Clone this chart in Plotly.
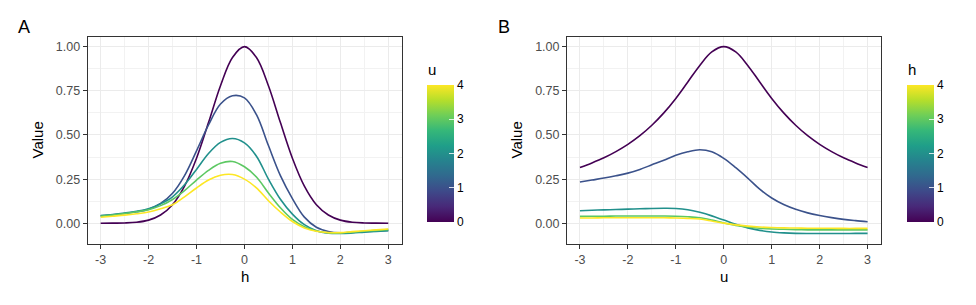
import plotly.graph_objects as go

# ---------------- data ----------------
grid = [-3, -2.75, -2.5, -2.25, -2, -1.75, -1.5, -1.25, -1, -0.75, -0.5, -0.25, 0,
        0.25, 0.5, 0.75, 1, 1.25, 1.5, 1.75, 2, 2.25, 2.5, 2.75, 3]

# Panel A: Value vs h, one curve per u
u_levels = [0, 1, 2, 3, 4]
a_u0 = [0.000, 0.001, 0.002, 0.006, 0.018, 0.047, 0.105, 0.210, 0.368, 0.570, 0.779, 0.939, 1.000,
        0.939, 0.779, 0.570, 0.368, 0.210, 0.105, 0.047, 0.018, 0.006, 0.002, 0.001, 0.000]
a_u1 = [0.043, 0.048, 0.055, 0.065, 0.080, 0.112, 0.170, 0.270, 0.410, 0.557, 0.675, 0.722, 0.710,
        0.615, 0.440, 0.270, 0.140, 0.035, -0.022, -0.046, -0.054, -0.052, -0.048, -0.044, -0.040]
a_u2 = [0.044, 0.050, 0.058, 0.068, 0.083, 0.110, 0.150, 0.218, 0.305, 0.395, 0.458, 0.480, 0.455,
        0.380, 0.250, 0.136, 0.052, -0.008, -0.042, -0.056, -0.058, -0.055, -0.050, -0.046, -0.042]
a_u3 = [0.040, 0.047, 0.055, 0.065, 0.077, 0.100, 0.135, 0.185, 0.245, 0.300, 0.340, 0.350, 0.320,
        0.262, 0.172, 0.088, 0.022, -0.020, -0.044, -0.054, -0.055, -0.050, -0.045, -0.040, -0.036]
a_u4 = [0.034, 0.040, 0.046, 0.054, 0.064, 0.082, 0.105, 0.150, 0.200, 0.245, 0.272, 0.276, 0.250,
        0.200, 0.128, 0.064, 0.010, -0.026, -0.045, -0.053, -0.053, -0.047, -0.042, -0.037, -0.032]

# Panel B: Value vs u, one curve per h
h_levels = [0, 1, 2, 3, 4]
b_h0 = [0.316, 0.342, 0.371, 0.406, 0.447, 0.496, 0.555, 0.625, 0.707, 0.800, 0.894, 0.970, 1.000,
        0.970, 0.894, 0.800, 0.707, 0.625, 0.555, 0.496, 0.447, 0.406, 0.371, 0.342, 0.316]
b_h1 = [0.234, 0.245, 0.256, 0.269, 0.284, 0.305, 0.331, 0.357, 0.385, 0.405, 0.416, 0.405, 0.368,
        0.315, 0.256, 0.193, 0.143, 0.106, 0.079, 0.059, 0.044, 0.032, 0.022, 0.015, 0.009]
b_h2 = [0.071, 0.074, 0.076, 0.078, 0.080, 0.082, 0.084, 0.085, 0.084, 0.077, 0.062, 0.042, 0.018,
        -0.006, -0.026, -0.040, -0.049, -0.054, -0.057, -0.058, -0.058, -0.058, -0.058, -0.057, -0.057]
b_h3 = [0.039, 0.040, 0.040, 0.041, 0.041, 0.041, 0.041, 0.041, 0.040, 0.037, 0.031, 0.018, 0.002,
        -0.012, -0.021, -0.028, -0.032, -0.034, -0.036, -0.037, -0.037, -0.037, -0.037, -0.037, -0.037]
b_h4 = [0.030, 0.030, 0.031, 0.031, 0.031, 0.031, 0.031, 0.031, 0.030, 0.028, 0.024, 0.013, 0.001,
        -0.009, -0.016, -0.021, -0.024, -0.026, -0.027, -0.028, -0.028, -0.028, -0.029, -0.029, -0.029]

y_ticks = [0, 0.25, 0.5, 0.75, 1.0]
y_tick_text = ["0.00", "0.25", "0.50", "0.75", "1.00"]
x_ticks = [-3, -2, -1, 0, 1, 2, 3]
x_tick_text = ["-3", "-2", "-1", "0", "1", "2", "3"]
cb_ticks = [0, 1, 2, 3, 4]

colors = ["#440154", "#3B528B", "#21908C", "#5DC863", "#FDE725"]

# ---------------- figure ----------------
# The page body keeps its default 8px margin, so the figure is 16px smaller
# and all pixel positions below (page coordinates) are shifted by 8px.
PAGE_W, PAGE_H = 976, 305
OFF = 8
W, H = PAGE_W - 2 * OFF, PAGE_H - 2 * OFF
FONT = "Liberation Sans, Arial, sans-serif"

def fx(px):
    return (px - OFF) / W

def fy(py):
    return 1 - (py - OFF) / H

fig = go.Figure()

for vals, c in zip([a_u0, a_u1, a_u2, a_u3, a_u4], colors):
    fig.add_trace(go.Scatter(x=grid, y=vals, mode="lines", xaxis="x", yaxis="y",
                             line=dict(color=c, width=1.6, shape="spline", smoothing=1.0),
                             showlegend=False, hoverinfo="skip"))
for vals, c in zip([b_h0, b_h1, b_h2, b_h3, b_h4], colors):
    fig.add_trace(go.Scatter(x=grid, y=vals, mode="lines", xaxis="x2", yaxis="y2",
                             line=dict(color=c, width=1.6, shape="spline", smoothing=1.0),
                             showlegend=False, hoverinfo="skip"))

def cbar(x_px):
    return dict(x=fx(x_px), xanchor="left", xpad=0, ypad=0,
                y=fy(153.3), yanchor="middle",
                len=136.7 / H, lenmode="fraction",
                thickness=27, thicknessmode="pixels",
                outlinewidth=0, tickvals=cb_ticks,
                ticks="inside", ticklen=5, tickcolor="rgba(255,255,255,0.8)", tickwidth=1,
                tickfont=dict(family=FONT, size=12, color="#000000"))

fig.add_trace(go.Scatter(x=[0, 0], y=[0.5, 0.5], xaxis="x", yaxis="y", mode="markers",
                         marker=dict(color=[0, 4], cmin=0, cmax=4, colorscale="Viridis",
                                     opacity=0, size=1, showscale=True, colorbar=cbar(426.7)),
                         showlegend=False, hoverinfo="skip"))
fig.add_trace(go.Scatter(x=[0, 0], y=[0.5, 0.5], xaxis="x2", yaxis="y2", mode="markers",
                         marker=dict(color=[0, 4], cmin=0, cmax=4, colorscale="Viridis",
                                     opacity=0, size=1, showscale=True, colorbar=cbar(906.7)),
                         showlegend=False, hoverinfo="skip"))

def xaxis(dom, anchor):
    return dict(domain=dom, anchor=anchor, range=[-3.27, 3.28],
                tickmode="array", tickvals=x_ticks, ticktext=x_tick_text,
                ticks="outside", ticklen=4, tickcolor="#333333", tickwidth=1,
                tickfont=dict(family=FONT, size=12.5, color="#4D4D4D"),
                showgrid=True, gridcolor="#EBEBEB", gridwidth=1.1,
                minor=dict(tickmode="array", tickvals=[-2.5, -1.5, -0.5, 0.5, 1.5, 2.5],
                           showgrid=True, gridcolor="#F2F2F2", gridwidth=0.6, ticks=""),
                showline=True, mirror=True, linecolor="#333333", linewidth=1,
                zeroline=False)

def yaxis(dom, anchor):
    return dict(domain=dom, anchor=anchor, range=[-0.1155, 1.053],
                tickmode="array", tickvals=y_ticks, ticktext=y_tick_text,
                ticks="outside", ticklen=4, tickcolor="#333333", tickwidth=1,
                tickfont=dict(family=FONT, size=12.5, color="#4D4D4D"),
                showgrid=True, gridcolor="#EBEBEB", gridwidth=1.1,
                minor=dict(tickmode="array", tickvals=[-0.125, 0.125, 0.375, 0.625, 0.875],
                           showgrid=True, gridcolor="#F2F2F2", gridwidth=0.6, ticks=""),
                showline=True, mirror=True, linecolor="#333333", linewidth=1,
                zeroline=False)

ydom = [fy(243.7), fy(37.3)]
fig.update_layout(
    width=W, height=H,
    margin=dict(l=0, r=0, t=0, b=0),
    paper_bgcolor="white", plot_bgcolor="white",
    xaxis=xaxis([fx(87.7), fx(401.7)], "y"),
    yaxis=yaxis(ydom, "x"),
    xaxis2=xaxis([fx(567), fx(881)], "y2"),
    yaxis2=yaxis(ydom, "x2"),
)

ann = []
def text(s, x, y, size, rot=0, color="#000000"):
    ann.append(dict(text=s, x=fx(x), y=fy(y), xref="paper", yref="paper",
                    showarrow=False, textangle=rot, xanchor="center", yanchor="middle",
                    font=dict(family=FONT, size=size, color=color)))

text("A", 24, 27, 18)
text("B", 504, 27, 18)
text("Value", 37, 140.5, 15, rot=-90)
text("Value", 516, 140.5, 15, rot=-90)
text("h", 244.5, 276, 15)
text("u", 723.5, 276, 15)
text("u", 432, 70, 15)
text("h", 912, 70, 15)
fig.update_layout(annotations=ann)

fig.write_html("out.html")
